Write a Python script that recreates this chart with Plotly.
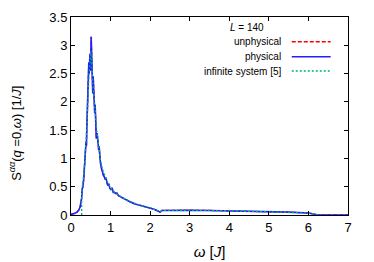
import plotly.graph_objects as go

# physical (L = 140) spectrum
omega_phys = [0.00, 0.05, 0.10, 0.15, 0.20, 0.23, 0.25, 0.27, 0.28, 0.30, 0.32, 0.34, 0.36, 0.38, 0.39,
              0.40, 0.42, 0.43, 0.44, 0.45, 0.46, 0.47, 0.48, 0.49, 0.50, 0.51, 0.52, 0.53, 0.54, 0.55,
              0.56, 0.57, 0.58, 0.59, 0.60, 0.61, 0.62, 0.64, 0.66, 0.68, 0.70, 0.71, 0.72, 0.74, 0.76,
              0.78, 0.80, 0.82, 0.84, 0.86, 0.88, 0.90, 0.93, 0.96, 0.98, 1.01, 1.04, 1.07, 1.10, 1.13,
              1.16, 1.20, 1.25, 1.30, 1.35, 1.40, 1.50, 1.60, 1.70, 1.80, 1.90, 2.00, 2.10, 2.20, 2.25,
              2.30, 2.50, 3.00, 3.50, 4.00, 4.50, 5.00, 5.50, 6.00, 6.15, 6.25, 7.00]
S_phys = [0.01, 0.015, 0.03, 0.05, 0.09, 0.14, 0.22, 0.30, 0.45, 0.50, 0.62, 0.80, 1.05, 1.30, 1.22,
          1.55, 2.00, 2.40, 2.62, 2.70, 2.50, 2.60, 2.85, 2.55, 2.70, 3.15, 2.85, 2.40, 2.30, 2.15,
          2.45, 2.20, 2.35, 2.00, 1.80, 1.95, 1.60, 1.35, 1.45, 1.25, 1.15, 1.22, 1.00, 0.95, 0.85,
          0.80, 0.72, 0.70, 0.68, 0.63, 0.66, 0.58, 0.52, 0.55, 0.47, 0.45, 0.48, 0.40, 0.40, 0.38,
          0.39, 0.34, 0.32, 0.30, 0.28, 0.26, 0.23, 0.20, 0.18, 0.16, 0.14, 0.13, 0.10, 0.07, 0.05,
          0.08, 0.085, 0.085, 0.08, 0.075, 0.065, 0.06, 0.05, 0.035, 0.02, 0.0, 0.0]

# unphysical contribution (indistinguishable from physical at this scale)
omega_unphys = omega_phys
S_unphys = S_phys

# infinite system [5]
omega_inf = [0.27, 0.27, 0.30, 0.35, 0.40, 0.45, 0.50, 0.52, 0.55, 0.60, 0.65, 0.70, 0.75, 0.80, 0.90,
             1.00, 1.10, 1.20, 1.40, 1.60, 1.80, 2.00, 2.20, 2.25, 2.30, 3.00, 4.00, 5.00, 6.00, 6.25]
S_inf = [0.0, 0.45, 0.55, 0.95, 1.55, 2.40, 2.90, 2.75, 2.35, 1.90, 1.50, 1.20, 0.95, 0.80, 0.62,
         0.48, 0.40, 0.35, 0.27, 0.21, 0.16, 0.13, 0.08, 0.055, 0.08, 0.085, 0.075, 0.06, 0.035, 0.0]

legend_title = "<i>L</i> = 140"
legend_names = ["unphysical", "physical", "infinite system [5]"]
colors = ["#ff0000", "#2020ff", "#00b07a"]
dashes = ["4px,2px", "solid", "2px,2px"]

x_ticks = [0, 1, 2, 3, 4, 5, 6, 7]
y_ticks = [0, 0.5, 1, 1.5, 2, 2.5, 3, 3.5]
y_tick_labels = ["0", "0.5", "1", "1.5", "2", "2.5", "3", "3.5"]

fig = go.Figure()
fig.add_trace(go.Scatter(x=omega_unphys, y=S_unphys, mode="lines", name=legend_names[0],
                         line=dict(color=colors[0], dash=dashes[0], width=1.3)))
fig.add_trace(go.Scatter(x=omega_phys, y=S_phys, mode="lines", name=legend_names[1],
                         line=dict(color=colors[1], dash=dashes[1], width=1.6)))
fig.add_trace(go.Scatter(x=omega_inf, y=S_inf, mode="lines", name=legend_names[2],
                         line=dict(color=colors[2], dash=dashes[2], width=1.3)))

font = "Liberation Sans, Arial, Helvetica, sans-serif"
axis_common = dict(showline=True, linecolor="black", linewidth=1, mirror="allticks",
                   ticks="inside", ticklen=4, tickcolor="black", showgrid=False, zeroline=False,
                   automargin=False,
                   tickfont=dict(family=font, size=13, color="black"))

fig.update_layout(
    width=374, height=262,
    margin=dict(l=71, r=26, t=17, b=47),
    paper_bgcolor="white", plot_bgcolor="white",
    showlegend=False,
    xaxis=dict(range=[0, 7], tickvals=x_ticks, **axis_common,
               title=dict(text="<i>ω</i> [<i>J</i>]", font=dict(family=font, size=15, color="black"),
                          standoff=12)),
    yaxis=dict(range=[0, 3.5], tickvals=y_ticks, ticktext=y_tick_labels, **axis_common),
)

# y-axis title
fig.add_annotation(xref="paper", yref="paper", x=-0.202, y=0.41, xanchor="center", yanchor="middle",
                   textangle=-90, showarrow=False,
                   text="S<sup><i>αα</i></sup>(<i>q</i> =0,<i>ω</i>) [1/<i>J</i>]",
                   font=dict(family=font, size=13, color="black"))

# legend drawn in gnuplot style (text right-aligned, sample on the right)
fig.add_annotation(xref="paper", yref="paper", x=0.637, y=0.946, xanchor="center", yanchor="middle",
                   showarrow=False, text=legend_title, font=dict(family=font, size=10, color="black"))
rows_y = [0.875, 0.799, 0.727]
for name, c, d, ry in zip(legend_names, colors, dashes, rows_y):
    fig.add_annotation(xref="paper", yref="paper", x=0.764, y=ry, xanchor="right", yanchor="middle",
                       showarrow=False, text=name, font=dict(family=font, size=10, color="black"))
    fig.add_shape(type="line", xref="paper", yref="paper", x0=0.797, x1=0.9375, y0=ry, y1=ry,
                  line=dict(color=c, dash=d, width=1.5))

fig.write_html("out.html", config={"displayModeBar": False},
               post_script="document.body.style.margin='0';")
